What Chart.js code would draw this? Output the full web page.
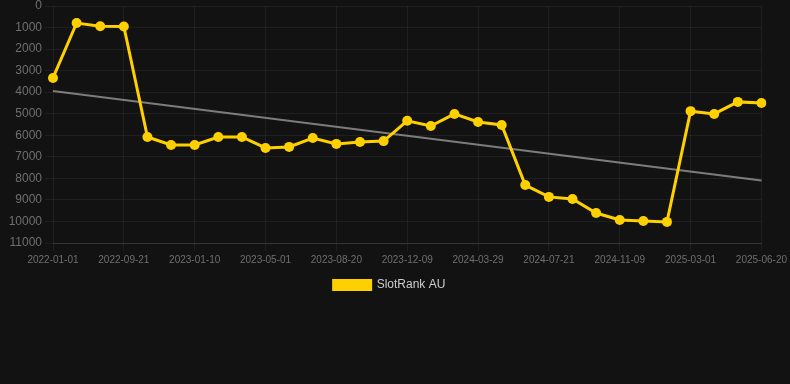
<!DOCTYPE html>
<html>
<head>
<meta charset="utf-8">
<script src="https://cdn.jsdelivr.net/npm/chart.js@4"></script>
<style>
  html, body { margin: 0; padding: 0; background: #121212; }
  #wrap { width: 790px; height: 301px; position: relative; }
</style>
</head>
<body>
<div id="wrap"><canvas id="rankChart"></canvas></div>
<script>
// --- DATA ---
const dates = [
    '2022-01-01', '2022-04-09', '2022-06-30', '2022-09-21', '2022-10-28', '2022-12-04',
    '2023-01-10', '2023-02-16', '2023-03-25', '2023-05-01', '2023-06-07', '2023-07-14',
    '2023-08-20', '2023-09-26', '2023-11-02', '2023-12-09', '2024-01-15', '2024-02-21',
    '2024-03-29', '2024-05-05', '2024-06-13', '2024-07-21', '2024-08-27', '2024-10-03',
    '2024-11-09', '2024-12-17', '2025-01-23', '2025-03-01', '2025-04-07', '2025-05-14',
    '2025-06-20'
];
const rankAU = [
    3340, 790, 940, 950, 6080, 6450,
    6450, 6080, 6080, 6590, 6540, 6130,
    6400, 6310, 6270, 5330, 5570, 5010,
    5380, 5520, 8310, 8860, 8960, 9610,
    9930, 9980, 10020, 4880, 5010, 4450,
    4500
];
const trendStart = 3950;
const trendEnd = 8100;
const yTicksMax = 11000;

// --- CHART ---
const trendData = dates.map(() => null);
trendData[0] = trendStart;
trendData[dates.length - 1] = trendEnd;

const gridColor = 'rgba(255, 255, 255, 0.06)';
const tickColor = '#6f6f6f';
const fontFamily = 'Liberation Sans, Arial, sans-serif';

new Chart(document.getElementById('rankChart').getContext('2d'), {
    type: 'line',
    data: {
        labels: dates,
        datasets: [
            {
                label: 'SlotRank AU',
                data: rankAU,
                borderColor: '#ffd000',
                backgroundColor: '#ffd000',
                borderWidth: 3,
                pointRadius: 5,
                pointBackgroundColor: '#ffd000',
                pointBorderWidth: 0,
                tension: 0
            },
            {
                label: 'Trend',
                data: trendData,
                spanGaps: true,
                borderColor: 'rgba(170, 170, 170, 0.7)',
                borderWidth: 2,
                pointRadius: 0,
                tension: 0
            }
        ]
    },
    options: {
        responsive: true,
        maintainAspectRatio: false,
        animation: false,
        layout: { padding: { right: 11 } },
        plugins: {
            legend: {
                position: 'bottom',
                labels: {
                    color: '#cccccc',
                    boxWidth: 37,
                    boxHeight: 9,
                    font: { family: fontFamily, size: 12 },
                    filter: item => item.text === 'SlotRank AU'
                }
            },
            tooltip: { enabled: false }
        },
        scales: {
            x: {
                grid: { color: gridColor },
                border: { color: 'rgba(255, 255, 255, 0.1)' },
                ticks: {
                    color: tickColor,
                    maxRotation: 0,
                    autoSkip: true,
                    maxTicksLimit: 11,
                    font: { family: fontFamily, size: 10 }
                }
            },
            y: {
                reverse: true,
                min: 0,
                max: yTicksMax,
                grid: { color: gridColor },
                border: { display: false },
                afterFit: scale => { scale.width = 53; },
                ticks: {
                    color: tickColor,
                    stepSize: 1000,
                    callback: v => String(v),
                    font: { family: fontFamily, size: 12, lineHeight: 0.5 }
                }
            }
        }
    }
});
</script>
</body>
</html>
